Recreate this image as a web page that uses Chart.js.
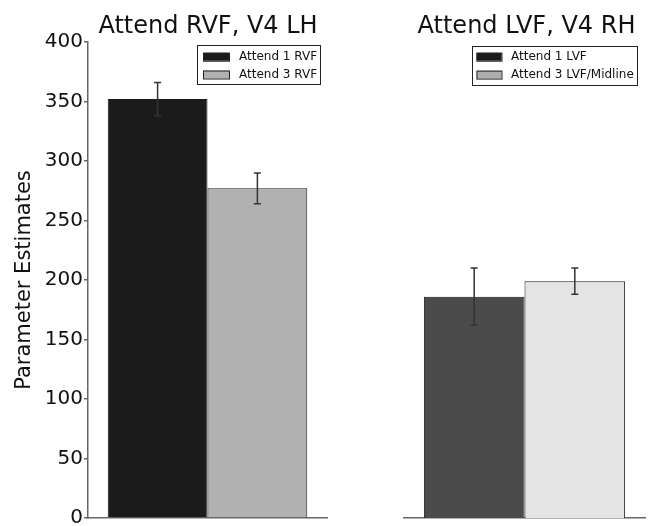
<!DOCTYPE html>
<html><head><meta charset="utf-8">
<script src="https://cdn.jsdelivr.net/npm/chart.js@4/dist/chart.umd.min.js"></script>
<style>
html,body{margin:0;padding:0;background:#fff;}
#wrap{position:relative;width:649px;height:526px;overflow:hidden;background:#fff;}
#c1{position:absolute;left:0;top:0;}
#c2{position:absolute;left:330px;top:0;}
</style></head><body>
<div id="wrap">
<canvas id="c1" width="330" height="526"></canvas>
<canvas id="c2" width="319" height="526"></canvas>
</div>
<script>
const panelTitles = ['Attend RVF, V4 LH', 'Attend LVF, V4 RH'];
const categories = [''];
const leftSeries = ['Attend 1 RVF', 'Attend 3 RVF'];
const leftValues = [352, 277];
const leftErrors = [14, 13];
const rightSeries = ['Attend 1 LVF', 'Attend 3 LVF/Midline'];
const rightValues = [186, 199];
const rightErrors = [24, 11];
const yTickValues = [0, 50, 100, 150, 200, 250, 300, 350, 400];
const yAxisLabel = 'Parameter Estimates';

const F = "'DejaVu Sans', 'Bitstream Vera Sans', sans-serif";
const AXIS = '#666';

const errorBars = {
  id: 'errorBars',
  afterDatasetsDraw(chart, args, opts) {
    const ctx = chart.ctx, y = chart.scales.y;
    chart.data.datasets.forEach((ds, i) => {
      const meta = chart.getDatasetMeta(i);
      meta.data.forEach((bar, j) => {
        const v = ds.data[j], e = ds.errors[j];
        const x = bar.x;
        const yt = y.getPixelForValue(v + e), yb = y.getPixelForValue(v - e);
        ctx.save();
        ctx.strokeStyle = opts.color; ctx.lineWidth = opts.width;
        ctx.beginPath();
        ctx.moveTo(x, yt); ctx.lineTo(x, yb);
        ctx.moveTo(x - opts.cap, yt); ctx.lineTo(x + opts.cap, yt);
        ctx.moveTo(x - opts.cap, yb); ctx.lineTo(x + opts.cap, yb);
        ctx.stroke();
        ctx.restore();
      });
    });
  }
};

const panelTitle = {
  id: 'panelTitle',
  afterDraw(chart, args, opts) {
    const ctx = chart.ctx;
    ctx.save();
    ctx.font = '24px ' + F;
    ctx.fillStyle = '#111';
    ctx.textAlign = 'center';
    ctx.textBaseline = 'alphabetic';
    ctx.fillText(opts.text, opts.x, opts.y);
    ctx.restore();
  }
};

const boxLegend = {
  id: 'boxLegend',
  afterDraw(chart, args, opts) {
    const ctx = chart.ctx;
    ctx.save();
    ctx.fillStyle = '#fff';
    ctx.fillRect(opts.x, opts.y, opts.w, opts.h);
    ctx.strokeStyle = '#222'; ctx.lineWidth = 1;
    ctx.strokeRect(opts.x + 0.5, opts.y + 0.5, opts.w, opts.h);
    ctx.font = '12px ' + F;
    ctx.textBaseline = 'middle';
    ctx.textAlign = 'left';
    chart.data.datasets.forEach((ds, i) => {
      const cy = opts.rows[i];
      ctx.fillStyle = opts.colors[i];
      ctx.fillRect(opts.sx, cy - 4, opts.sw, 8);
      ctx.strokeStyle = '#222';
      ctx.strokeRect(opts.sx + 0.5, cy - 4 + 0.5, opts.sw, 8);
      ctx.fillStyle = '#111';
      ctx.fillText(ds.label, opts.tx, cy + 0.5);
    });
    ctx.restore();
  }
};

function makeDatasets(labels, values, errors, colors) {
  return labels.map((lab, i) => ({
    label: lab,
    data: [values[i]],
    errors: [errors[i]],
    backgroundColor: colors[i],
    borderColor: '#1a1a1a',
    borderWidth: 1,
    categoryPercentage: 0.835,
    barPercentage: 1.0
  }));
}

const commonX = {
  type: 'category',
  display: true,
  ticks: { display: false },
  grid: { display: false, drawTicks: false },
  border: { display: true, color: AXIS, width: 1.5 }
};

new Chart(document.getElementById('c1'), {
  type: 'bar',
  data: {
    labels: categories,
    datasets: makeDatasets(leftSeries, leftValues, leftErrors, ['#1b1b1b', '#b1b1b1'])
  },
  options: {
    responsive: false,
    devicePixelRatio: 1,
    animation: false,
    layout: { padding: { left: 0, top: 42, right: 3, bottom: 8 } },
    scales: {
      x: commonX,
      y: {
        min: 0, max: 400,
        afterBuildTicks: s => { s.ticks = yTickValues.map(v => ({ value: v })); },
        ticks: { font: { family: F, size: 20 }, color: '#111', padding: 1 },
        grid: { drawOnChartArea: false, drawTicks: true, tickLength: 4, color: AXIS, lineWidth: 1.5 },
        border: { display: true, color: AXIS, width: 1.5 },
        title: { display: true, text: yAxisLabel, font: { family: F, size: 21 }, color: '#111', padding: { top: 12, bottom: 0 } },
        afterFit: s => { s.width = 88; s.paddingTop = 0; s.paddingBottom = 0; }
      }
    },
    plugins: {
      legend: { display: false },
      tooltip: { enabled: false },
      errorBars: { color: '#333', width: 1.5, cap: 3.5 },
      panelTitle: { text: panelTitles[0], x: 208, y: 33 },
      boxLegend: { x: 197, y: 45, w: 123, h: 39, sx: 203, sw: 26, tx: 239, rows: [56.7, 74.5], colors: ['#1b1b1b', '#b1b1b1'] }
    }
  },
  plugins: [errorBars, panelTitle, boxLegend]
});

new Chart(document.getElementById('c2'), {
  type: 'bar',
  data: {
    labels: categories,
    datasets: makeDatasets(rightSeries, rightValues, rightErrors, ['#4b4b4b', '#e4e4e4'])
  },
  options: {
    responsive: false,
    devicePixelRatio: 1,
    animation: false,
    layout: { padding: { left: 74, top: 42, right: 4, bottom: 8 } },
    scales: {
      x: commonX,
      y: {
        display: false, min: 0, max: 400,
        afterFit: s => { s.width = 0; s.paddingTop = 0; s.paddingBottom = 0; }
      }
    },
    plugins: {
      legend: { display: false },
      tooltip: { enabled: false },
      errorBars: { color: '#333', width: 1.5, cap: 3.5 },
      panelTitle: { text: panelTitles[1], x: 196.5, y: 33 },
      boxLegend: { x: 142, y: 46, w: 165, h: 39, sx: 146.5, sw: 25, tx: 181, rows: [56.7, 74.6], colors: ['#1b1b1b', '#adadad'] }
    }
  },
  plugins: [errorBars, panelTitle, boxLegend]
});
</script>
</body></html>
